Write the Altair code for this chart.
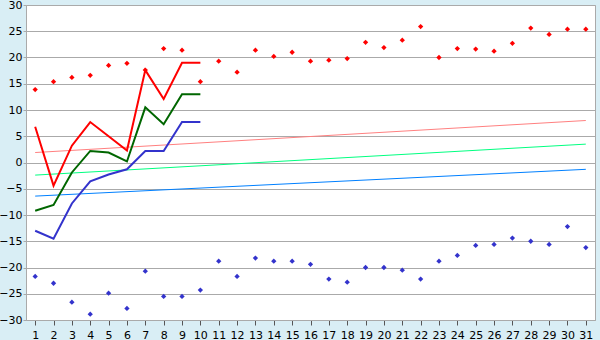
import altair as alt
import pandas as pd

days = list(range(1, 32))
record_high = [13.9, 15.4, 16.2, 16.6, 18.5, 18.9, 17.6, 21.7, 21.4, 15.4,
               19.3, 17.2, 21.4, 20.2, 21.0, 19.3, 19.5, 19.8, 22.9, 21.9,
               23.3, 25.9, 20.0, 21.7, 21.6, 21.2, 22.7, 25.6, 24.4, 25.4, 25.4]
record_low = [-21.7, -23.0, -26.6, -28.9, -24.9, -27.8, -20.7, -25.5, -25.5, -24.3,
              -18.8, -21.7, -18.2, -18.8, -18.8, -19.4, -22.2, -22.8, -20.0, -20.0,
              -20.5, -22.2, -18.8, -17.7, -15.8, -15.6, -14.4, -15.0, -15.6, -12.2, -16.2]

obs_days = list(range(1, 11))
obs_max = [6.8, -4.4, 3.2, 7.7, 5.0, 2.3, 17.6, 12.1, 19.0, 19.0]
obs_mean = [-9.2, -8.1, -1.9, 2.2, 1.9, 0.2, 10.5, 7.3, 13.0, 13.0]
obs_min = [-13.0, -14.5, -7.8, -3.6, -2.3, -1.3, 2.2, 2.2, 7.7, 7.7]

trend_days = [1, 31]
trend_max = [1.9, 8.0]
trend_mean = [-2.4, 3.5]
trend_min = [-6.4, -1.3]

x_scale = alt.Scale(domain=[0.5, 31.5], nice=False, zero=False)
y_scale = alt.Scale(domain=[-30, 30], nice=False)

x_axis = alt.Axis(values=days, title=None, grid=False, labelFont="DejaVu Sans",
                  labelFontSize=11, labelColor="#000000", domainColor="#aaaaaa",
                  tickColor="#555555", tickSize=5, labelPadding=4, labelFlush=False)
y_axis = alt.Axis(values=list(range(-30, 31, 5)), title=None, grid=True,
                  gridColor="#aaaaaa", gridOpacity=1, labelFont="DejaVu Sans",
                  labelFontSize=11, labelColor="#000000", domainColor="#aaaaaa",
                  tickColor="#aaaaaa", tickSize=3, labelPadding=1)

def line_layer(xs, ys, color, width):
    df = pd.DataFrame({"day": xs, "v": ys})
    return alt.Chart(df).mark_line(color=color, strokeWidth=width, interpolate="linear").encode(
        x=alt.X("day:Q", scale=x_scale, axis=x_axis),
        y=alt.Y("v:Q", scale=y_scale, axis=y_axis),
    )

def point_layer(xs, ys, color):
    df = pd.DataFrame({"day": xs, "v": ys})
    return alt.Chart(df).mark_point(shape="diamond", filled=True, color=color,
                                    size=28, opacity=1).encode(
        x=alt.X("day:Q", scale=x_scale, axis=x_axis),
        y=alt.Y("v:Q", scale=y_scale, axis=y_axis),
    )

chart = alt.layer(
    line_layer(trend_days, trend_max, "#ff8080", 1),
    line_layer(trend_days, trend_mean, "#00ff80", 1),
    line_layer(trend_days, trend_min, "#0080ff", 1),
    line_layer(obs_days, obs_max, "#ff0000", 2),
    line_layer(obs_days, obs_mean, "#006600", 2),
    line_layer(obs_days, obs_min, "#3333cc", 2),
    point_layer(days, record_high, "#ff0000"),
    point_layer(days, record_low, "#3333cc"),
).properties(
    width=569, height=315,
    padding={"left": 26, "top": 5, "right": 5, "bottom": 20},
    autosize="none",
    background="#d9eef5",
).configure_view(stroke="#aaaaaa", fill="#ffffff", strokeWidth=1)

chart.save("out.html", embed_options={"renderer": "svg", "actions": False})
